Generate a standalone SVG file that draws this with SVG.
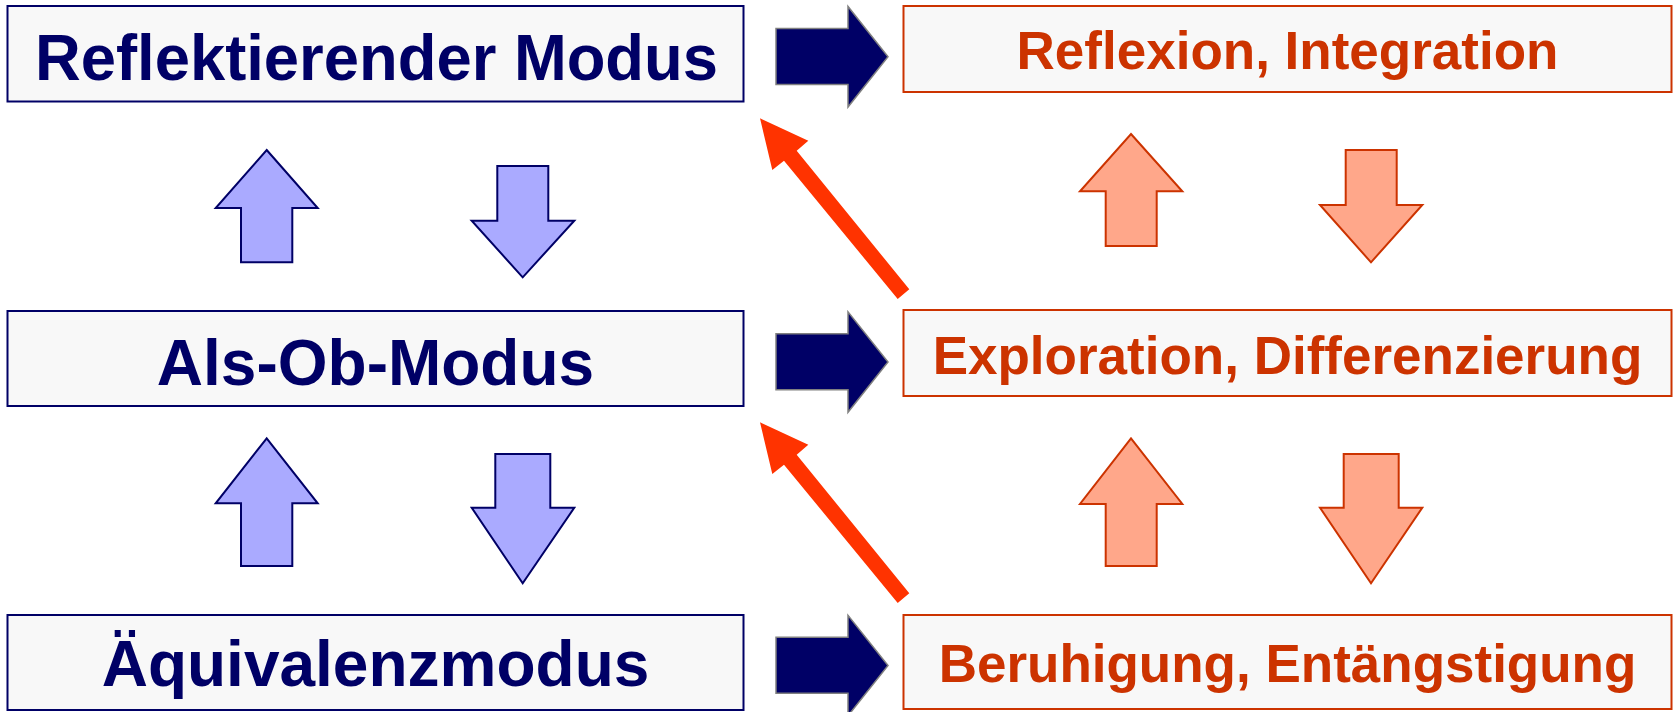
<svg xmlns="http://www.w3.org/2000/svg" xmlns:xlink="http://www.w3.org/1999/xlink" width="1674" height="712" viewBox="0 0 1674 712">
<style>
.lbox{fill:#F8F8F8;stroke:#000066;stroke-width:2}
.rbox{fill:#F8F8F8;stroke:#CC3300;stroke-width:2}
.ltxt{font-family:"Liberation Sans",Arial,sans-serif;font-weight:bold;font-size:64px;fill:#000066;text-anchor:middle}
.rtxt{font-family:"Liberation Sans",Arial,sans-serif;font-weight:bold;font-size:53px;fill:#CC3300;text-anchor:middle}
.navy{fill:#000066;stroke:#808080;stroke-width:1.5;stroke-linejoin:miter}
.blue{fill:#AAAAFF;stroke:#000066;stroke-width:2;stroke-linejoin:miter}
.salmon{fill:#FFA78A;stroke:#CC3300;stroke-width:2;stroke-linejoin:miter}
.red{fill:#FF3300;stroke:none}
</style>
<defs>
<polygon id="navyArrow" class="navy" points="776,28.5 848,28.5 848,6.5 888,56.7 848,107 848,84.5 776,84.5"/>
<polygon id="redArrow" class="red" points="760,118.3 808.3,140.7 796.7,150.7 909.3,289.3 897.7,299 784,160.7 772.3,170"/>
</defs>
<g id="node-reflektierender-modus">
<rect class="lbox" x="7.5" y="6" width="736" height="95.5"/>
<text class="ltxt" x="376.5" y="80" textLength="683" lengthAdjust="spacingAndGlyphs">Reflektierender Modus</text>
</g>
<g id="node-als-ob-modus">
<rect class="lbox" x="7.5" y="311" width="736" height="95"/>
<text class="ltxt" x="375.5" y="384.5">Als-Ob-Modus</text>
</g>
<g id="node-aequivalenzmodus">
<rect class="lbox" x="7.5" y="615" width="736" height="95"/>
<text class="ltxt" x="375.5" y="686">Äquivalenzmodus</text>
</g>
<g id="node-reflexion-integration">
<rect class="rbox" x="903.5" y="6" width="768" height="86"/>
<text class="rtxt" x="1287.5" y="69.3">Reflexion, Integration</text>
</g>
<g id="node-exploration-differenzierung">
<rect class="rbox" x="903.5" y="310" width="768" height="86"/>
<text class="rtxt" x="1287.5" y="374">Exploration, Differenzierung</text>
</g>
<g id="node-beruhigung-entaengstigung">
<rect class="rbox" x="903.5" y="615" width="768" height="94"/>
<text class="rtxt" x="1287.5" y="682">Beruhigung, Entängstigung</text>
</g>
<g id="connectors">
<use xlink:href="#navyArrow"/>
<use xlink:href="#navyArrow" transform="translate(0,305.3)"/>
<use xlink:href="#navyArrow" transform="translate(0,608.8)"/>
<polygon class="blue" points="266.7,150 317.7,208 292.3,208 292.3,262.3 241,262.3 241,208 215.7,208"/>
<polygon class="blue" points="497.3,166 548.3,166 548.3,220.7 574.3,220.7 522.7,277.3 471.7,220.7 497.3,220.7"/>
<polygon class="blue" points="266.7,438.3 317.7,503.3 292.3,503.3 292.3,566 241,566 241,503.3 215.7,503.3"/>
<polygon class="blue" points="495.3,454 550.3,454 550.3,507.7 574.3,507.7 522.7,583.3 471.7,507.7 495.3,507.7"/>
<polygon class="salmon" points="1131,134 1182.3,191.3 1156.7,191.3 1156.7,246 1105.7,246 1105.7,191.3 1080,191.3"/>
<polygon class="salmon" points="1345.7,150 1396.7,150 1396.7,205 1422.3,205 1371,262.3 1320,205 1345.7,205"/>
<polygon class="salmon" points="1131,438.3 1182.3,504 1156.7,504 1156.7,566 1105.7,566 1105.7,504 1080,504"/>
<polygon class="salmon" points="1343.7,454 1398.7,454 1398.7,507.7 1422.3,507.7 1371,583.3 1320,507.7 1343.7,507.7"/>
<use xlink:href="#redArrow"/>
<use xlink:href="#redArrow" transform="translate(0,304)"/>
</g>
</svg>
